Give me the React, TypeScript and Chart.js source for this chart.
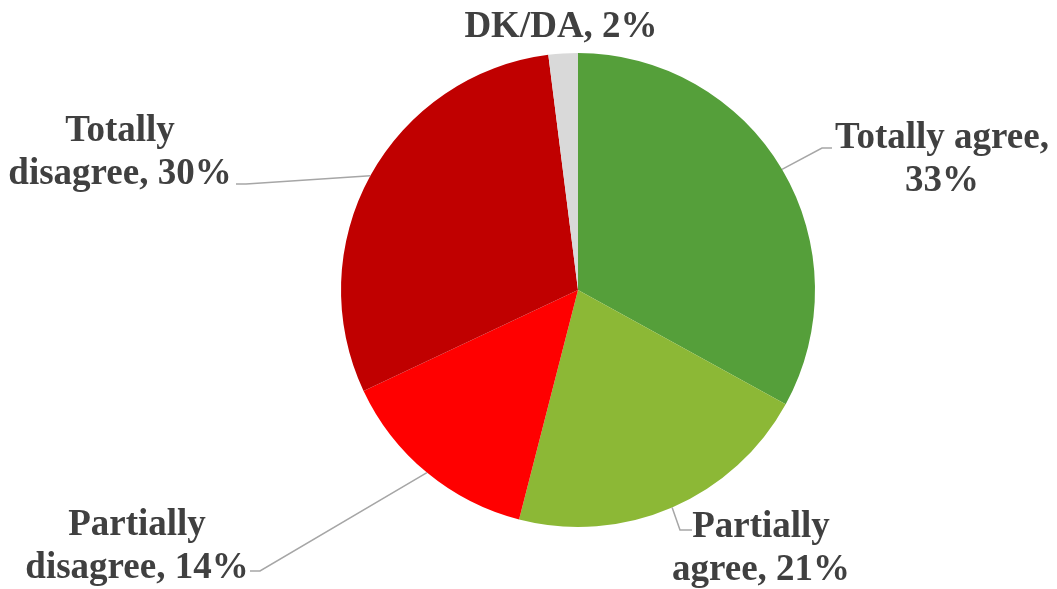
import React, { useEffect, useRef } from "react";
import { Chart, registerables } from "chart.js";

Chart.register(...registerables);

// Survey answers and their shares (%)
const categories = [
  "Totally agree",
  "Partially agree",
  "Partially disagree",
  "Totally disagree",
  "DK/DA",
];
const shares = [33, 21, 14, 30, 2];
const sliceColors = ["#559F3A", "#8CB836", "#FF0000", "#C00000", "#D9D9D9"];

// Label text lines (category, value) per slice
const labelLines = [
  ["Totally agree,", "33%"],
  ["Partially", "agree, 21%"],
  ["Partially", "disagree, 14%"],
  ["Totally", "disagree, 30%"],
  ["DK/DA, 2%"],
];

const FONT = 'bold 37px "Liberation Serif", "DejaVu Serif", serif';

// Placement of each label block and its leader line elbows
const labelLayout = [
  { cx: 942, base: 148, path: [[822, 148], [832, 148]] },
  { cx: 761, base: 537, path: [[680, 530], [692, 530]] },
  { cx: 137, base: 535, path: [[260, 571], [250, 571]] },
  { cx: 120, base: 141, path: [[246, 184], [236, 184]] },
  { cx: 561, base: 37, path: null },
];

const pieLabels = {
  id: "pieLabels",
  afterDraw(chart: any) {
    const ctx = chart.ctx;
    const meta = chart.getDatasetMeta(0);
    ctx.save();
    meta.data.forEach((arc: any, i: number) => {
      const lay = labelLayout[i];
      if (lay.path) {
        const mid = (arc.startAngle + arc.endAngle) / 2;
        const sx = arc.x + Math.cos(mid) * arc.outerRadius;
        const sy = arc.y + Math.sin(mid) * arc.outerRadius;
        ctx.beginPath();
        ctx.moveTo(sx, sy);
        lay.path.forEach((p: number[]) => ctx.lineTo(p[0], p[1]));
        ctx.strokeStyle = "#A6A6A6";
        ctx.lineWidth = 1.5;
        ctx.stroke();
      }
      ctx.font = FONT;
      ctx.fillStyle = "#404040";
      ctx.textAlign = "center";
      ctx.textBaseline = "alphabetic";
      labelLines[i].forEach((line, j) => {
        ctx.fillText(line, lay.cx, lay.base + j * 43);
      });
    });
    ctx.restore();
  },
};

export default function App() {
  const canvasRef = useRef<HTMLCanvasElement | null>(null);

  useEffect(() => {
    let chart: Chart | null = null;
    let cancelled = false;
    const build = () => {
      if (cancelled || !canvasRef.current) return;
      chart = new Chart(canvasRef.current, {
        type: "pie",
        data: {
          labels: categories,
          datasets: [
            {
              data: shares,
              backgroundColor: sliceColors,
              borderWidth: 0,
            },
          ],
        },
        options: {
          animation: false,
          responsive: false,
          maintainAspectRatio: false,
          layout: { padding: { left: 341, right: 242, top: 53, bottom: 62 } },
          plugins: {
            legend: { display: false },
            tooltip: { enabled: false },
          },
        },
        plugins: [pieLabels],
      });
    };
    const fonts: any = (document as any).fonts;
    if (fonts && fonts.load) {
      fonts.load(FONT).then(build, build);
    } else {
      build();
    }
    return () => {
      cancelled = true;
      if (chart) chart.destroy();
    };
  }, []);

  return (
    <div style={{ position: "fixed", left: 0, top: 0, width: 1057, height: 589, background: "#fff" }}>
      <canvas ref={canvasRef} width={1057} height={589} style={{ width: 1057, height: 589 }} />
    </div>
  );
}
